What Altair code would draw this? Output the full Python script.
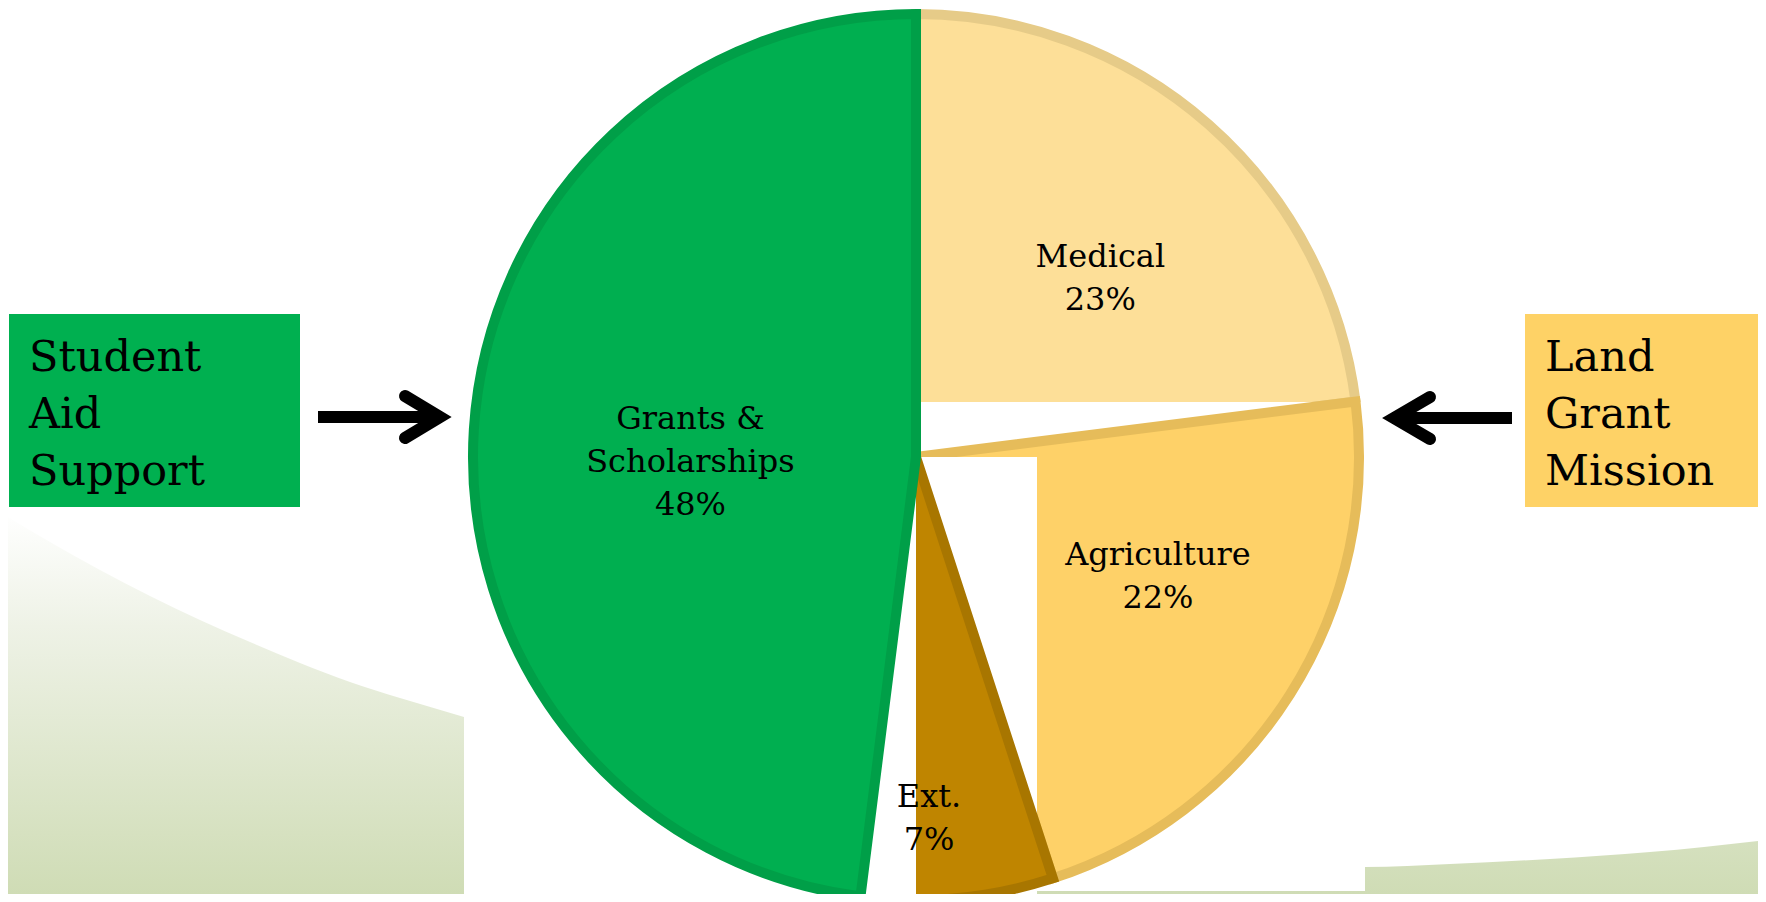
import math
import altair as alt
import pandas as pd

# ---------------- data ----------------
slice_keys = ["medical", "agriculture", "extension", "grants"]
slice_names = ["Medical", "Agriculture", "Ext.", "Grants &\nScholarships"]
slice_shares = [23, 22, 7, 48]

box_texts = ["Student\nAid\nSupport", "Land\nGrant\nMission"]

# ---------------- layout / styles ----------------
OFF = 8
W, H = 1750, 886
CX, CY, R = 916, 457, 443
SERIF = "DejaVu Serif"
LBL_LH = 43

FILL = {"medical": "#FDDF98", "agriculture": "#FED168",
        "extension": "#BF8500", "grants": "#00AF50"}
STROKE = {"medical": "#E6CB88", "agriculture": "#E6BC5A",
          "extension": "#A87600", "grants": "#009F48"}

swoosh_x = [0, 50, 100, 150, 200, 250, 300, 350, 400, 464, 900, 1365, 1450, 1550, 1650, 1766]
swoosh_y = [512, 542, 570, 596, 620, 642, 663, 682, 698, 717, 850, 867, 864, 859, 852, 840]

arrow_id = ["ls", "ls", "lh", "lh", "lh", "rs", "rs", "rh", "rh", "rh"]
arrow_seq = [0, 1, 0, 1, 2, 0, 1, 0, 1, 2]
arrow_x = [318, 440, 405, 440, 405, 1512, 1394, 1430, 1394, 1430]
arrow_y = [417, 417, 396, 417, 438, 418, 418, 397, 418, 439]

# ---------------- tables ----------------
pie_df = pd.DataFrame({"key": slice_keys, "name": slice_names, "share": slice_shares})
pie_df["end"] = pie_df["share"].cumsum()
pie_df["start"] = pie_df["end"] - pie_df["share"]
pie_df["mid"] = (pie_df["start"] + pie_df["end"]) / 2

one = pd.DataFrame({"k": [0]})

xs = alt.Scale(domain=[OFF, OFF + W], nice=False, zero=False)
ys = alt.Scale(domain=[OFF, OFF + H], nice=False, zero=False, reverse=True)
ts = alt.Scale(domain=[0, 100], range=[0, 2 * math.pi])


def px(v):
    return alt.XDatum(v, type="quantitative", scale=xs, axis=None)


def py(v):
    return alt.YDatum(v, type="quantitative", scale=ys, axis=None)


def patch(x0, x1, y0, y1, color="#ffffff"):
    return alt.Chart(one).mark_rect(color=color).encode(
        x=px(x0), x2=alt.X2Datum(x1), y=py(y0), y2=alt.Y2Datum(y1)
    )


def wedge(key):
    return (
        alt.Chart(pie_df)
        .transform_filter(alt.datum.key == key)
        .mark_arc(outerRadius=R, fill=FILL[key], stroke=STROKE[key], strokeWidth=10,
                  strokeJoin="miter")
        .encode(
            theta=alt.Theta("start:Q", scale=ts, stack=False),
            theta2="end:Q",
            x=px(CX),
            y=py(CY),
        )
    )


def label(key, radius, dx, dy, nlines):
    return (
        alt.Chart(pie_df)
        .transform_filter(alt.datum.key == key)
        .transform_calculate(txt="datum.name + '\\n' + datum.share + '%'")
        .mark_text(radius=radius, dx=dx, dy=dy - (nlines - 1) * LBL_LH / 2,
                   font=SERIF, fontSize=32,
                   lineHeight=LBL_LH, lineBreak="\n", align="center",
                   baseline="middle", color="#000000")
        .encode(
            theta=alt.Theta("mid:Q", scale=ts, stack=False),
            text="txt:N",
            x=px(CX),
            y=py(CY),
        )
    )


# background swoosh
swoosh_df = pd.DataFrame({"x": swoosh_x, "y": swoosh_y})
swoosh = alt.Chart(swoosh_df).mark_area(
    interpolate="monotone",
    color=alt.Gradient(
        gradient="linear",
        stops=[alt.GradientStop(color="#ffffff", offset=0),
               alt.GradientStop(color="#eef2e6", offset=0.3),
               alt.GradientStop(color="#cfdcb5", offset=1)],
        x1=0, x2=0, y1=0, y2=1,
    ),
).encode(
    x=alt.X("x:Q", scale=xs, axis=None),
    y=alt.Y("y:Q", scale=ys, axis=None),
    y2=alt.Y2Datum(OFF + H),
)

# boxes and their texts
box_green = patch(9, 300, 314, 507, "#00B050")
box_yellow = patch(1525, 1759, 314, 507, "#FED266")


def box_text(i, x, y):
    return alt.Chart(pd.DataFrame({"t": [box_texts[i]]})).mark_text(
        font=SERIF, fontSize=43, lineHeight=57, lineBreak="\n",
        align="left", baseline="alphabetic", color="#000000"
    ).encode(text="t:N", x=px(x), y=py(y))


# arrows
arrow_df = pd.DataFrame({"id": arrow_id, "seq": arrow_seq, "x": arrow_x, "y": arrow_y})
shafts = alt.Chart(arrow_df).transform_filter(
    "datum.id == 'ls' || datum.id == 'rs'"
).mark_line(color="#000000", strokeWidth=12, strokeCap="butt").encode(
    x=alt.X("x:Q", scale=xs, axis=None),
    y=alt.Y("y:Q", scale=ys, axis=None),
    detail="id:N",
    order="seq:Q",
)
heads = alt.Chart(arrow_df).transform_filter(
    "datum.id == 'lh' || datum.id == 'rh'"
).mark_line(color="#000000", strokeWidth=12, strokeCap="round",
            strokeJoin="miter").encode(
    x=alt.X("x:Q", scale=xs, axis=None),
    y=alt.Y("y:Q", scale=ys, axis=None),
    detail="id:N",
    order="seq:Q",
)

chart = alt.layer(
    swoosh,
    patch(464, 1365, OFF, 891),
    box_green,
    box_yellow,
    box_text(0, 29, 371),
    box_text(1, 1545, 371),
    shafts,
    heads,
    wedge("medical"),
    patch(916, 1369, 402, 457),
    wedge("agriculture"),
    patch(916, 1037, 457, OFF + H),
    wedge("extension"),
    patch(464, 916, 457, OFF + H),
    wedge("grants"),
    label("medical", 256, 15, 14, 2),
    label("agriculture", 270, 14, -25, 2),
    label("extension", 362, -21, 1, 2),
    label("grants", 226, 0, 19, 3),
).properties(
    width=W, height=H, padding=0,
    autosize=alt.AutoSizeParams(type="none"),
    background="#ffffff",
).configure_view(strokeWidth=0)

chart.save("out.html", embed_options={"renderer": "svg", "actions": False})
